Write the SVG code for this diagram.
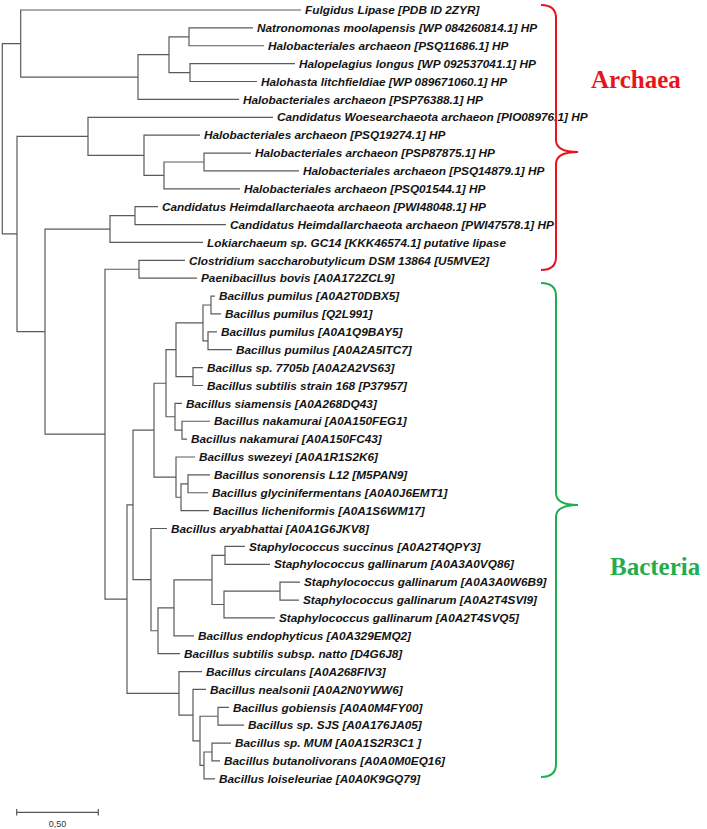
<svg xmlns="http://www.w3.org/2000/svg" width="707" height="829" viewBox="0 0 707 829">
<style>
.br{fill:none;stroke:#5a5a5a;stroke-width:1.2}
.lf{font-family:"Liberation Sans",Arial,sans-serif;font-weight:bold;font-style:italic;font-size:11.8px;fill:#141414}
.grp{font-family:"Liberation Serif","Times New Roman",serif;font-weight:bold;font-size:25px}
.brace{fill:none;stroke-width:2}
.sc{font-family:"Liberation Sans",Arial,sans-serif;font-size:9px;fill:#333}
</style>
<rect width="707" height="829" fill="#ffffff"/>
<g id="connectors" class="br">
<path d="M253,27.88 H189 V45.76 H264"/>
<path d="M295,63.64 H190 V81.52 H257"/>
<path d="M189,36.82 H169 V72.58 H190"/>
<path d="M169,54.70 H138 V99.40 H239"/>
<path d="M301,10 H20.7 V77.05 H138"/>
<path d="M251,153.04 H204 V170.92 H299"/>
<path d="M204,161.98 H164 V188.80 H240"/>
<path d="M200,135.16 H144 V175.39 H164"/>
<path d="M273,117.28 H88 V155.28 H144"/>
<path d="M158,206.68 H135 V224.56 H226"/>
<path d="M135,215.62 H110 V242.44 H203"/>
<path d="M185,260.32 H139 V278.20 H197"/>
<path d="M215,296.08 H211 V313.96 H221"/>
<path d="M217,331.84 H208 V349.72 H232"/>
<path d="M211,305.02 H203 V340.78 H208"/>
<path d="M203,367.60 H193 V385.48 H203"/>
<path d="M203,322.90 H176 V376.54 H193"/>
<path d="M210,421.24 H182 V439.12 H187"/>
<path d="M182,403.36 H175 V430.18 H182"/>
<path d="M176,349.72 H166 V416.77 H175"/>
<path d="M210,474.88 H188 V492.76 H208"/>
<path d="M188,483.82 H181 V510.64 H209"/>
<path d="M195,457.00 H176 V497.23 H181"/>
<path d="M166,383.25 H154 V477.12 H176"/>
<path d="M245,546.40 H225 V564.28 H270"/>
<path d="M300,582.16 H280 V600.04 H299"/>
<path d="M280,591.10 H224 V617.92 H275"/>
<path d="M225,555.34 H212 V604.51 H224"/>
<path d="M212,579.93 H174 V635.80 H194"/>
<path d="M174,607.86 H158 V653.68 H180"/>
<path d="M167,528.52 H151 V630.77 H158"/>
<path d="M154,430.18 H133 V579.65 H151"/>
<path d="M229,707.32 H218 V725.20 H244"/>
<path d="M231,743.08 H212 V760.96 H220"/>
<path d="M212,752.02 H204 V778.84 H215"/>
<path d="M218,716.26 H200 V765.43 H204"/>
<path d="M206,689.44 H193 V740.85 H200"/>
<path d="M202,671.56 H179 V715.14 H193"/>
<path d="M133,504.91 H127 V693.35 H179"/>
<path d="M139,269.26 H105 V599.13 H127"/>
<path d="M110,229.03 H45 V434.20 H105"/>
<path d="M88,136.28 H17 V331.61 H45"/>
<path d="M20.7,43.53 H2.3 V233.95 H17"/>
</g>
<g id="leaves" class="lf">
<g id="leaf0"><text x="305" y="14.2">Fulgidus Lipase [PDB ID 2ZYR]</text></g>
<g id="leaf1"><text x="257" y="32.08">Natronomonas moolapensis [WP 084260814.1] HP</text></g>
<g id="leaf2"><text x="268" y="49.96">Halobacteriales archaeon [PSQ11686.1] HP</text></g>
<g id="leaf3"><text x="299" y="67.84">Halopelagius longus [WP 092537041.1] HP</text></g>
<g id="leaf4"><text x="261" y="85.72">Halohasta litchfieldiae [WP 089671060.1] HP</text></g>
<g id="leaf5"><text x="243" y="103.6">Halobacteriales archaeon [PSP76388.1] HP</text></g>
<g id="leaf6"><text x="277" y="121.48">Candidatus Woesearchaeota archaeon [PIO08976.1] HP</text></g>
<g id="leaf7"><text x="204" y="139.36">Halobacteriales archaeon [PSQ19274.1] HP</text></g>
<g id="leaf8"><text x="255" y="157.24">Halobacteriales archaeon [PSP87875.1] HP</text></g>
<g id="leaf9"><text x="303" y="175.12">Halobacteriales archaeon [PSQ14879.1] HP</text></g>
<g id="leaf10"><text x="244" y="193.0">Halobacteriales archaeon [PSQ01544.1] HP</text></g>
<g id="leaf11"><text x="162" y="210.88">Candidatus Heimdallarchaeota archaeon [PWI48048.1] HP</text></g>
<g id="leaf12"><text x="230" y="228.76">Candidatus Heimdallarchaeota archaeon [PWI47578.1] HP</text></g>
<g id="leaf13"><text x="207" y="246.64">Lokiarchaeum sp. GC14 [KKK46574.1] putative lipase</text></g>
<g id="leaf14"><text x="189" y="264.52">Clostridium saccharobutylicum DSM 13864 [U5MVE2]</text></g>
<g id="leaf15"><text x="201" y="282.4">Paenibacillus bovis [A0A172ZCL9]</text></g>
<g id="leaf16"><text x="219" y="300.28">Bacillus pumilus [A0A2T0DBX5]</text></g>
<g id="leaf17"><text x="225" y="318.16">Bacillus pumilus [Q2L991]</text></g>
<g id="leaf18"><text x="221" y="336.04">Bacillus pumilus [A0A1Q9BAY5]</text></g>
<g id="leaf19"><text x="236" y="353.92">Bacillus pumilus [A0A2A5ITC7]</text></g>
<g id="leaf20"><text x="207" y="371.8">Bacillus sp. 7705b [A0A2A2VS63]</text></g>
<g id="leaf21"><text x="207" y="389.68">Bacillus subtilis strain 168 [P37957]</text></g>
<g id="leaf22"><text x="186" y="407.56">Bacillus siamensis [A0A268DQ43]</text></g>
<g id="leaf23"><text x="214" y="425.44">Bacillus nakamurai [A0A150FEG1]</text></g>
<g id="leaf24"><text x="191" y="443.32">Bacillus nakamurai [A0A150FC43]</text></g>
<g id="leaf25"><text x="199" y="461.2">Bacillus swezeyi [A0A1R1S2K6]</text></g>
<g id="leaf26"><text x="214" y="479.08">Bacillus sonorensis L12 [M5PAN9]</text></g>
<g id="leaf27"><text x="212" y="496.96">Bacillus glycinifermentans [A0A0J6EMT1]</text></g>
<g id="leaf28"><text x="213" y="514.84">Bacillus licheniformis [A0A1S6WM17]</text></g>
<g id="leaf29"><text x="171" y="532.72">Bacillus aryabhattai [A0A1G6JKV8]</text></g>
<g id="leaf30"><text x="249" y="550.6">Staphylococcus succinus [A0A2T4QPY3]</text></g>
<g id="leaf31"><text x="274" y="568.48">Staphylococcus gallinarum [A0A3A0VQ86]</text></g>
<g id="leaf32"><text x="304" y="586.36">Staphylococcus gallinarum [A0A3A0W6B9]</text></g>
<g id="leaf33"><text x="303" y="604.24">Staphylococcus gallinarum [A0A2T4SVI9]</text></g>
<g id="leaf34"><text x="279" y="622.12">Staphylococcus gallinarum [A0A2T4SVQ5]</text></g>
<g id="leaf35"><text x="198" y="640.0">Bacillus endophyticus [A0A329EMQ2]</text></g>
<g id="leaf36"><text x="184" y="657.88">Bacillus subtilis subsp. natto [D4G6J8]</text></g>
<g id="leaf37"><text x="206" y="675.76">Bacillus circulans [A0A268FIV3]</text></g>
<g id="leaf38"><text x="210" y="693.64">Bacillus nealsonii [A0A2N0YWW6]</text></g>
<g id="leaf39"><text x="233" y="711.52">Bacillus gobiensis [A0A0M4FY00]</text></g>
<g id="leaf40"><text x="248" y="729.4">Bacillus sp. SJS [A0A176JA05]</text></g>
<g id="leaf41"><text x="235" y="747.28">Bacillus sp. MUM [A0A1S2R3C1 ]</text></g>
<g id="leaf42"><text x="224" y="765.16">Bacillus butanolivorans [A0A0M0EQ16]</text></g>
<g id="leaf43"><text x="219" y="783.04">Bacillus loiseleuriae [A0A0K9GQ79]</text></g>
</g>
<g id="archaea">
<path class="brace" stroke="#e8141c" d="M541,5 Q556,5 556,18 V140 Q556,152 578,152 Q556,152 556,164 V257 Q556,270 541,270"/>
<text class="grp" x="591" y="88" fill="#e8141c">Archaea</text>
</g>
<g id="bacteria">
<path class="brace" stroke="#1fae4f" d="M541,283 Q556,283 556,296 V493 Q556,505 578,505 Q556,505 556,517 V764 Q556,777 541,777"/>
<text class="grp" x="610" y="575" fill="#1fae4f">Bacteria</text>
</g>
<g id="scalebar">
<path d="M16.7,812.3 H98.3 M16.7,809 V815.6 M98.3,809 V815.6" stroke="#555" stroke-width="1.2" fill="none"/>
<text class="sc" x="57.5" y="827" text-anchor="middle">0,50</text>
</g>
</svg>
